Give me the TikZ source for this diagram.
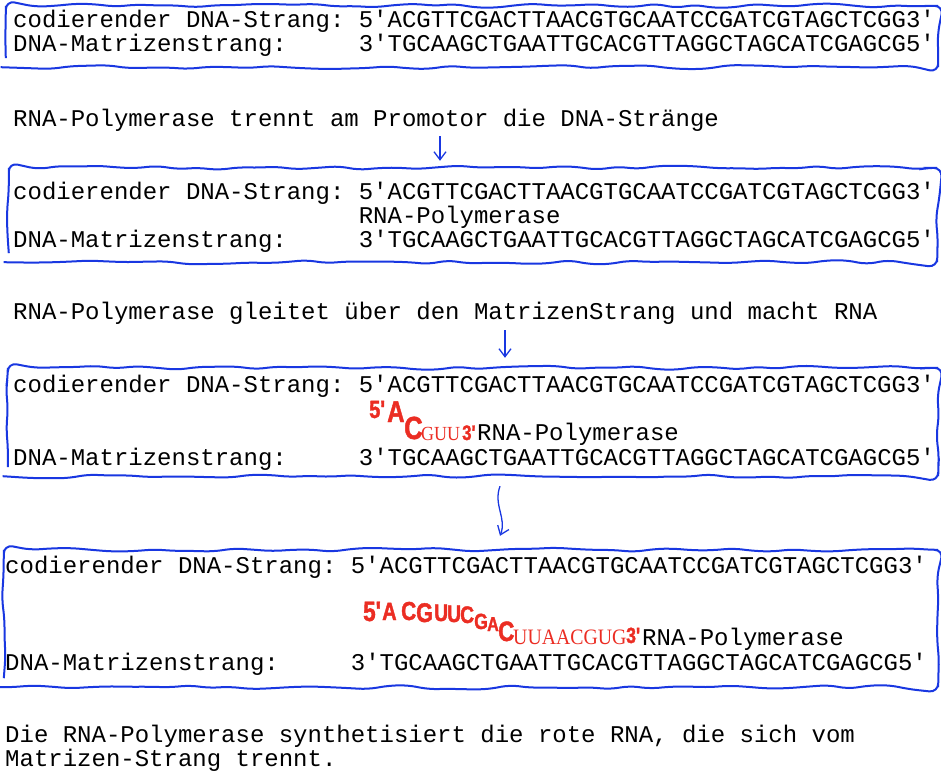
\documentclass[tikz,border=0pt]{standalone}
\usepackage{fontspec}
\setmonofont{Liberation Mono}
\newfontfamily\handfont[FakeStretch=0.8,FakeBold=1.5]{Liberation Sans}
\newfontfamily\rnafont[FakeStretch=0.9]{Liberation Serif}
\usepackage{tikz}
\usetikzlibrary{calc,fit,arrows.meta,decorations.pathmorphing}

\definecolor{penblue}{RGB}{25,55,225}
\definecolor{rnared}{RGB}{235,45,35}

\tikzset{
  txt/.style={anchor=base west, inner sep=0pt, font=\ttfamily\fontsize{24}{24}\selectfont},
  hand/.style={anchor=base west, inner sep=0pt, text=rnared, font=\handfont\bfseries\fontsize{#1}{#1}\selectfont},
  rna/.style={anchor=base west, inner sep=0pt, text=rnared, font=\rnafont\fontsize{#1}{#1}\selectfont},
  boxfit/.style={inner sep=0pt},
  wobbly/.style={penblue, line width=2pt, decorate,
    decoration={random steps, segment length=20pt, amplitude=2.2pt}, rounded corners=9pt},
  penarrow/.style={penblue, line width=1.3pt, -{Straight Barb[length=8pt,width=12pt]}}
}

\begin{document}
\begin{tikzpicture}[x=1pt,y=-1pt]
  \pgfmathsetseed{7}
  \useasboundingbox (0,0) rectangle (941,778);

  % first box: the two strands
  \node[txt] (cod1) at (13,28) {codierender DNA-Strang: 5'ACGTTCGACTTAACGTGCAATCCGATCGTAGCTCGG3'};
  \node[txt] (mat1) at (13,52) {DNA-Matrizenstrang:\ \ \ \ \ 3'TGCAAGCTGAATTGCACGTTAGGCTAGCATCGAGCG5'};
  \node[boxfit, fit={(6,6) (938,67)}] (box1) {};
  \draw[wobbly] (box1.south west) rectangle (box1.north east);

  \node[txt] (trennt) at (13,127) {RNA-Polymerase trennt am Promotor die DNA-Stränge};

  % second box
  \node[txt] (cod2) at (13,199) {codierender DNA-Strang: 5'ACGTTCGACTTAACGTGCAATCCGATCGTAGCTCGG3'};
  \node[txt] (pol2) at (358.6,223) {RNA-Polymerase};
  \node[txt] (mat2) at (13,247) {DNA-Matrizenstrang:\ \ \ \ \ 3'TGCAAGCTGAATTGCACGTTAGGCTAGCATCGAGCG5'};
  \node[boxfit, fit={(9,168) (937,262)}] (box2) {};
  \draw[wobbly] (box2.south west) rectangle (box2.north east);

  \coordinate (a1) at (440,0);
  \draw[penarrow] ($(trennt.south -| a1)+(0,4)$) -- ($(box2.north -| a1)+(0,-7)$);

  \node[txt] (gleitet) at (13,319) {RNA-Polymerase gleitet über den MatrizenStrang und macht RNA};

  % third box
  \node[txt] (cod3) at (13,392) {codierender DNA-Strang: 5'ACGTTCGACTTAACGTGCAATCCGATCGTAGCTCGG3'};
  \node[hand=25] (r5a) at (369,418) {5'};
  \node[hand=30] (rA) at (387,422) {A};
  \node[hand=32] (rC) at (404,439) {C};
  \node[rna=20] (rGUU) at (421,440) {GUU};
  \node[hand=21] (r3a) at (462,440) {3'};
  \node[txt] (pol3) at (477,440) {RNA-Polymerase};
  \node[txt] (mat3) at (13,465) {DNA-Matrizenstrang:\ \ \ \ \ 3'TGCAAGCTGAATTGCACGTTAGGCTAGCATCGAGCG5'};
  \node[boxfit, fit={(8,368) (938,476)}] (box3) {};
  \draw[wobbly] (box3.south west) rectangle (box3.north east);

  \coordinate (a2) at (505,0);
  \draw[penarrow] ($(gleitet.south -| a2)+(0,6)$) -- ($(box3.north -| a2)+(0,-10)$);

  % fourth box
  \node[txt] (cod4) at (5,573) {codierender DNA-Strang: 5'ACGTTCGACTTAACGTGCAATCCGATCGTAGCTCGG3'};
  \foreach \ch/\x/\y/\s [count=\i] in {5'/363/621/28, A/382/620/25, C/401/620/26, G/416/622/27,
      U/434/621/24, U/447/622/24, C/460/623/24, G/474/629/22, A/487/631/20, C/498/641/28}
    \node[hand=\s] (rb\i) at (\x,\y) {\ch};
  \node[rna=22] (rUUA) at (513,644) {UUAACGUG};
  \node[hand=22] (r3b) at (626,643) {3'};
  \node[txt] (pol4) at (642,645) {RNA-Polymerase};
  \node[txt] (mat4) at (5,670) {DNA-Matrizenstrang:\ \ \ \ \ 3'TGCAAGCTGAATTGCACGTTAGGCTAGCATCGAGCG5'};
  \node[boxfit, fit={(4,550) (938,687)}] (box4) {};
  \draw[wobbly] (box4.south west) rectangle (box4.north east);

  \coordinate (a3) at (500,0);
  \draw[penarrow] ($(box3.south -| a3)+(0,10)$) .. controls (493,505) and (507,518) .. ($(box4.north -| a3)+(0,-14)$);

  \node[txt] (fazit1) at (5,742) {Die RNA-Polymerase synthetisiert die rote RNA, die sich vom};
  \node[txt] (fazit2) at (5,766) {Matrizen-Strang trennt.};
\end{tikzpicture}
\end{document}
